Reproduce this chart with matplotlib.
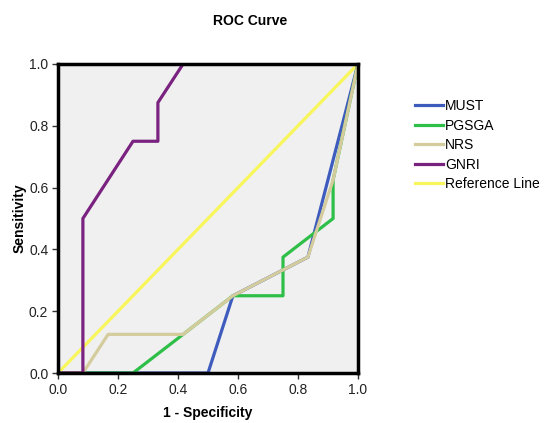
import matplotlib
matplotlib.use("Agg")
import matplotlib.pyplot as plt

plt.rcParams['font.family'] = ['Liberation Sans', 'DejaVu Sans']

# ROC points (1 - specificity, sensitivity)
must_x = [0.0, 0.5, 0.583, 0.833, 1.0]
must_y = [0.0, 0.0, 0.25, 0.375, 1.0]

pgsga_x = [0.0, 0.25, 0.417, 0.583, 0.75, 0.75, 0.917, 0.917, 1.0]
pgsga_y = [0.0, 0.0, 0.125, 0.25, 0.25, 0.375, 0.5, 0.625, 1.0]

nrs_x = [0.0, 0.083, 0.167, 0.417, 0.583, 0.833, 0.917, 1.0]
nrs_y = [0.0, 0.0, 0.125, 0.125, 0.25, 0.375, 0.625, 1.0]

gnri_x = [0.0, 0.083, 0.083, 0.25, 0.333, 0.333, 0.417, 1.0]
gnri_y = [0.0, 0.0, 0.5, 0.75, 0.75, 0.875, 1.0, 1.0]

ref_x = [0.0, 1.0]
ref_y = [0.0, 1.0]

ticks = [0.0, 0.2, 0.4, 0.6, 0.8, 1.0]

fig = plt.figure(figsize=(5.44, 4.23), dpi=100)
ax = fig.add_axes([0.1066, 0.1182, 0.5515, 0.7305])
ax.set_facecolor('#F0F0F0')

lw = 2.3
l_ref, = ax.plot(ref_x, ref_y, color='#F8F65A', lw=lw, label='Reference Line')
l_must, = ax.plot(must_x, must_y, color='#3E5BBE', lw=lw, label='MUST')
l_pgsga, = ax.plot(pgsga_x, pgsga_y, color='#2EBF48', lw=lw, label='PGSGA')
l_nrs, = ax.plot(nrs_x, nrs_y, color='#D4CC9C', lw=lw, label='NRS')
l_gnri, = ax.plot(gnri_x, gnri_y, color='#7A2280', lw=lw, label='GNRI')

ax.set_xlim(0, 1)
ax.set_ylim(0, 1)
ax.set_xticks(ticks)
ax.set_yticks(ticks)
ax.set_xticklabels(['%.1f' % t for t in ticks], fontsize=10, color='#222222')
ax.set_yticklabels(['%.1f' % t for t in ticks], fontsize=10, color='#222222')
ax.tick_params(direction='out', length=4, width=1, color='#333333', pad=3)
for s in ax.spines.values():
    s.set_linewidth(2.5)
    s.set_color('black')

ax.set_xlabel('1 - Specificity', fontsize=10, fontweight='bold', labelpad=7)
ax.set_ylabel('Sensitivity', fontsize=10, fontweight='bold', labelpad=2)
fig.text(0.46, 0.95, 'ROC Curve', ha='center', va='center', fontsize=10, fontweight='bold')

fig.legend(handles=[l_must, l_pgsga, l_nrs, l_gnri, l_ref],
           loc='upper left', bbox_to_anchor=(0.763, 0.766), frameon=False,
           fontsize=10, handlelength=2.0, handletextpad=0.15, labelspacing=0.4,
           borderaxespad=0, borderpad=0)

fig.savefig("out.png", dpi=100)
